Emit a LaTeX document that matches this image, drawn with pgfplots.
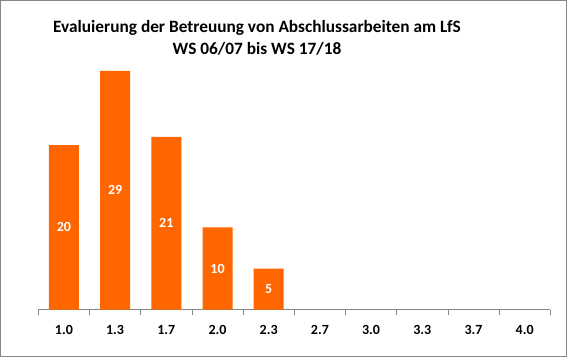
\documentclass[border=0pt]{standalone}
\usepackage{pgfplots}
\pgfplotsset{compat=1.18}
\usepackage{fontspec}
\setmainfont{Carlito}
\definecolor{barorange}{HTML}{FF6600}
\definecolor{framegray}{HTML}{868686}
\begin{document}
\begin{tikzpicture}
\draw[framegray, line width=1pt] (0.5pt,0.5pt) rectangle (566.5pt,356.5pt);
\node[align=center, font=\bfseries\fontsize{17.3}{22}\selectfont] at (257pt,319.5pt)
  {Evaluierung der Betreuung von Abschlussarbeiten am LfS\\WS 06/07 bis WS 17/18};
\begin{axis}[
  at={(38.3pt,47.3pt)}, anchor=south west,
  scale only axis, width=512pt, height=247pt,
  xmin=-0.5, xmax=9.5, ymin=0, ymax=30,
  axis x line*=bottom, axis y line=none,
  axis line style={framegray, line width=0.8pt},
  xtick={-0.5,0.5,...,9.5}, xticklabels={},
  major tick length=5pt, tick align=outside,
  tick style={framegray, line width=0.8pt},
  extra x ticks={0,1,2,3,4,5,6,7,8,9},
  extra x tick labels={1.0,1.3,1.7,2.0,2.3,2.7,3.0,3.3,3.7,4.0},
  extra x tick style={major tick length=0pt, tick label style={yshift=-12.5pt}},
  ticklabel style={font=\bfseries\fontsize{14}{16}\selectfont, text=black},
  ytick=\empty,
  clip=false,
  /pgf/number format/assume math mode=true,
]
\addplot[ybar, bar width=30pt, fill=barorange, draw=none,
  visualization depends on={y \as \rawy},
  nodes near coords,
  nodes near coords style={font=\bfseries\fontsize{14}{16}\selectfont, text=white, anchor=center,
    /pgf/number format/assume math mode=true,
    shift={(axis direction cs:0,-\rawy/2)}},
] coordinates {(0,20) (1,29) (2,21) (3,10) (4,5)};
\end{axis}
\end{tikzpicture}
\end{document}
